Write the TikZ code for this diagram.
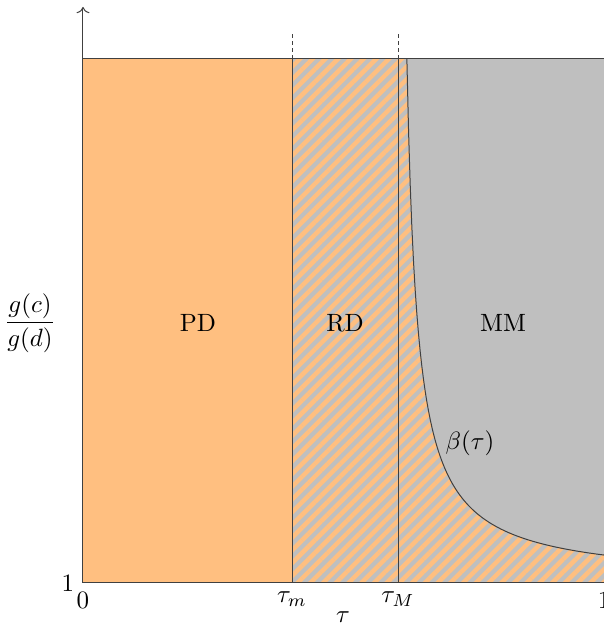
\documentclass[tikz,border=0pt]{standalone}
\usepackage{amsmath}
\usetikzlibrary{patterns.meta, arrows.meta, positioning}

\begin{document}
\begin{tikzpicture}[
    x=0.4pt, y=0.4pt,
    edge/.style={draw=black!75, line width=0.4pt},
    guide/.style={edge, dash pattern=on 1.4pt off 1.4pt},
    hatched/.style={fill=gray!50, postaction={pattern={Lines[angle=45, distance=3.6pt, line width=1.8pt]}, pattern color=orange!50}},
    ticklabel/.style={inner sep=3.33pt},
]
\useasboundingbox (-83,-43) rectangle (521,583);

% Axis corners and thresholds
\coordinate (O) at (0,0);
\coordinate (ytop) at (0,576);
\coordinate (xend) at (521,0);
\coordinate (tl) at (0,524);
\coordinate (tr) at (521,524);
\coordinate (tm) at (209,0);
\coordinate (tM) at (315,0);

% Regions
\fill[orange!50] (O) rectangle (tm |- tl);
\fill[gray!50] (tm) rectangle (tr);
\path[hatched] (tm) -- (tm |- tl)
    -- plot[domain=323.88:521, samples=120] (\x, {5473/(\x-313.4)+1.6})
    -- (xend) -- cycle;

% Boundaries
\draw[edge] plot[domain=323.88:521, samples=120] (\x, {5473/(\x-313.4)+1.6});
\draw[edge] (tl) -- (tr);
\draw[edge] (tm) -- (tm |- tl);
\draw[edge] (tM) -- (tM |- tl);
\draw[guide] (tm |- tl) -- ++(0,26);
\draw[guide] (tM |- tl) -- ++(0,26);

% Axes
\draw[edge, ->] (O) -- (ytop);
\draw[edge] (O) -- (xend);

% Tick labels
\node[ticklabel, anchor=east] (y1) at (O) {1};
\node[ticklabel, anchor=north] (x0) at (O) {0};
\node[ticklabel, anchor=north] (xm) at (tm) {$\tau_m$};
\node[ticklabel, anchor=north] (xM) at (tM) {$\tau_M$};
\node[ticklabel, anchor=north] (x1) at (xend) {1};
\node (xlabel) at (260,-34) {$\tau$};
\node (ylabel) at (-53,260) {$\dfrac{g(c)}{g(d)}$};

% Region labels
\node (pd) at (115,260) {PD};
\node (rd) at (262,260) {RD};
\node (mm) at (420,260) {MM};
\node (beta) at (387,140) {$\beta(\tau)$};

\end{tikzpicture}
\end{document}
